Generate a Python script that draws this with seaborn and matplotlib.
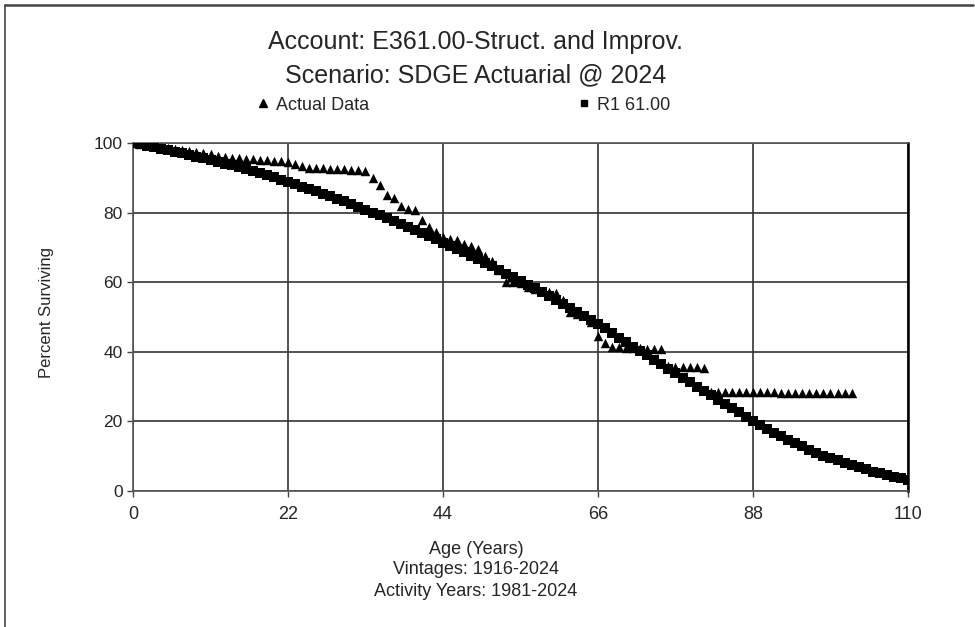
import matplotlib
matplotlib.use("Agg")
import matplotlib.pyplot as plt
import seaborn as sns
import pandas as pd
from matplotlib.lines import Line2D

# ---------------- data ----------------
title_lines = ["Account: E361.00-Struct. and Improv.", "Scenario: SDGE Actuarial @ 2024"]
x_label_lines = ["Age (Years)", "Vintages: 1916-2024", "Activity Years: 1981-2024"]
y_label = "Percent Surviving"
series_names = ["Actual Data", "R1 61.00"]
x_ticks = [0, 22, 44, 66, 88, 110]
y_ticks = [0, 20, 40, 60, 80, 100]

actual_age = list(range(0, 103))
actual_pct = [
    100.0, 99.7, 99.4, 99.1, 98.8, 98.5, 98.2, 97.9, 97.6, 97.3,
    97.0, 96.7, 96.4, 96.1, 95.8, 95.6, 95.4, 95.3, 95.2, 95.0,
    94.9, 94.8, 94.6, 94.1, 93.4, 92.9, 92.8, 92.7, 92.6, 92.5,
    92.4, 92.3, 92.2, 92.0, 90.0, 88.0, 85.2, 84.2, 81.8, 81.0,
    80.8, 78.0, 76.0, 74.5, 73.0, 72.5, 72.0, 71.0, 70.5, 69.5,
    67.5, 66.0, 63.5, 60.0, 60.0, 59.8, 58.5, 58.0, 57.5, 57.3,
    57.0, 55.0, 51.5, 51.0, 50.5, 48.5, 44.5, 42.5, 41.5, 41.3,
    41.2, 41.1, 41.0, 40.9, 40.8, 40.7, 35.8, 35.7, 35.6, 35.5,
    35.5, 35.4, 28.5, 28.5, 28.5, 28.4, 28.4, 28.4, 28.4, 28.4,
    28.4, 28.4, 28.3, 28.3, 28.3, 28.3, 28.3, 28.3, 28.2, 28.2,
    28.2, 28.2, 28.2,
]

curve_age = list(range(0, 111))
curve_pct = [
    100.0, 99.6, 99.2, 98.8, 98.4, 97.9, 97.5, 97.0, 96.6, 96.1,
    95.6, 95.1, 94.6, 94.1, 93.6, 93.0, 92.5, 91.9, 91.3, 90.7,
    90.1, 89.5, 88.8, 88.2, 87.5, 86.8, 86.1, 85.4, 84.7, 83.9,
    83.2, 82.4, 81.6, 80.8, 80.0, 79.2, 78.4, 77.5, 76.7, 75.8,
    75.0, 74.1, 73.2, 72.3, 71.4, 70.5, 69.5, 68.6, 67.6, 66.6,
    65.6, 64.6, 63.6, 62.5, 61.5, 60.4, 59.3, 58.2, 57.1, 56.0,
    54.9, 53.8, 52.6, 51.5, 50.3, 49.2, 48.0, 46.7, 45.4, 44.1,
    42.8, 41.5, 40.3, 39.0, 37.7, 36.4, 35.1, 33.8, 32.5, 31.3,
    30.0, 28.7, 27.5, 26.2, 25.0, 23.8, 22.6, 21.4, 20.2, 19.0,
    17.9, 16.8, 15.7, 14.7, 13.7, 12.8, 11.9, 11.0, 10.2, 9.5,
    8.8, 8.1, 7.4, 6.8, 6.2, 5.6, 5.1, 4.6, 4.1, 3.7,
    3.3,
]

actual_df = pd.DataFrame({"age": actual_age, "pct": actual_pct})
curve_df = pd.DataFrame({"age": curve_age, "pct": curve_pct})

# ---------------- style ----------------
sns.set_style("white")
plt.rcParams["font.family"] = ["Liberation Sans", "DejaVu Sans"]

W, H = 975, 627
fig = plt.figure(figsize=(W / 100, H / 100), dpi=100)
ax = fig.add_axes([133 / W, 1 - 491 / H, 775 / W, 348 / H])

sns.scatterplot(data=curve_df, x="age", y="pct", marker="s", s=44, color="black",
                edgecolor="black", linewidth=0, ax=ax, zorder=3, label=series_names[1],
                legend=False)
sns.scatterplot(data=actual_df, x="age", y="pct", marker="^", s=46, color="black",
                edgecolor="black", linewidth=0, ax=ax, zorder=4, label=series_names[0],
                legend=False)

ax.set_xlim(0, 110)
ax.set_ylim(0, 100)
ax.set_xticks(x_ticks)
ax.set_yticks(y_ticks)
ax.set_xticklabels([str(t) for t in x_ticks])
ax.set_yticklabels([str(t) for t in y_ticks])
ax.grid(True, color="#333333", linewidth=1.2)
ax.set_axisbelow(True)
for side in ["left", "bottom", "top"]:
    ax.spines[side].set_color("#555555")
    ax.spines[side].set_linewidth(1.2)
ax.spines["right"].set_color("black")
ax.spines["right"].set_linewidth(1.8)

ax.tick_params(axis="y", direction="out", length=4.5, width=1, color="#444444",
               pad=3, labelsize=12.5, left=True)
ax.tick_params(axis="x", direction="out", length=4.5, width=1, color="#444444",
               pad=6, labelsize=13, bottom=True)

ax.set_xlabel("")
ax.set_ylabel(y_label, fontsize=12)
ax.yaxis.set_label_coords((54 - 133) / 775, (491 - 312) / 348)

# titles
fig.text(476 / W, 1 - 42 / H, title_lines[0], ha="center", va="center", fontsize=18)
fig.text(476 / W, 1 - 75 / H, title_lines[1], ha="center", va="center", fontsize=18)

# x-axis caption lines
for yy, txt in zip([549, 570, 592], x_label_lines):
    fig.text(476 / W, 1 - yy / H, txt, ha="center", va="center", fontsize=13)

# legend
handles = [
    Line2D([], [], marker="^", color="black", linestyle="none", markersize=6),
    Line2D([], [], marker="s", color="black", linestyle="none", markersize=5),
]
fig.legend(handles, series_names, ncol=2, loc="center left",
           bbox_to_anchor=(258 / W, 1 - 105 / H), frameon=False, fontsize=13,
           handlelength=0.6, handletextpad=0.4, columnspacing=11.6, borderpad=0,
           borderaxespad=0)

# figure border (top and left)
fig.add_artist(Line2D([5 / W, 973 / W], [1 - 5 / H, 1 - 5 / H], transform=fig.transFigure,
                      color="#444444", linewidth=1.8))
fig.add_artist(Line2D([5 / W, 5 / W], [1 - 5 / H, 0], transform=fig.transFigure,
                      color="#444444", linewidth=1.2))

fig.savefig("out.png", dpi=100)
